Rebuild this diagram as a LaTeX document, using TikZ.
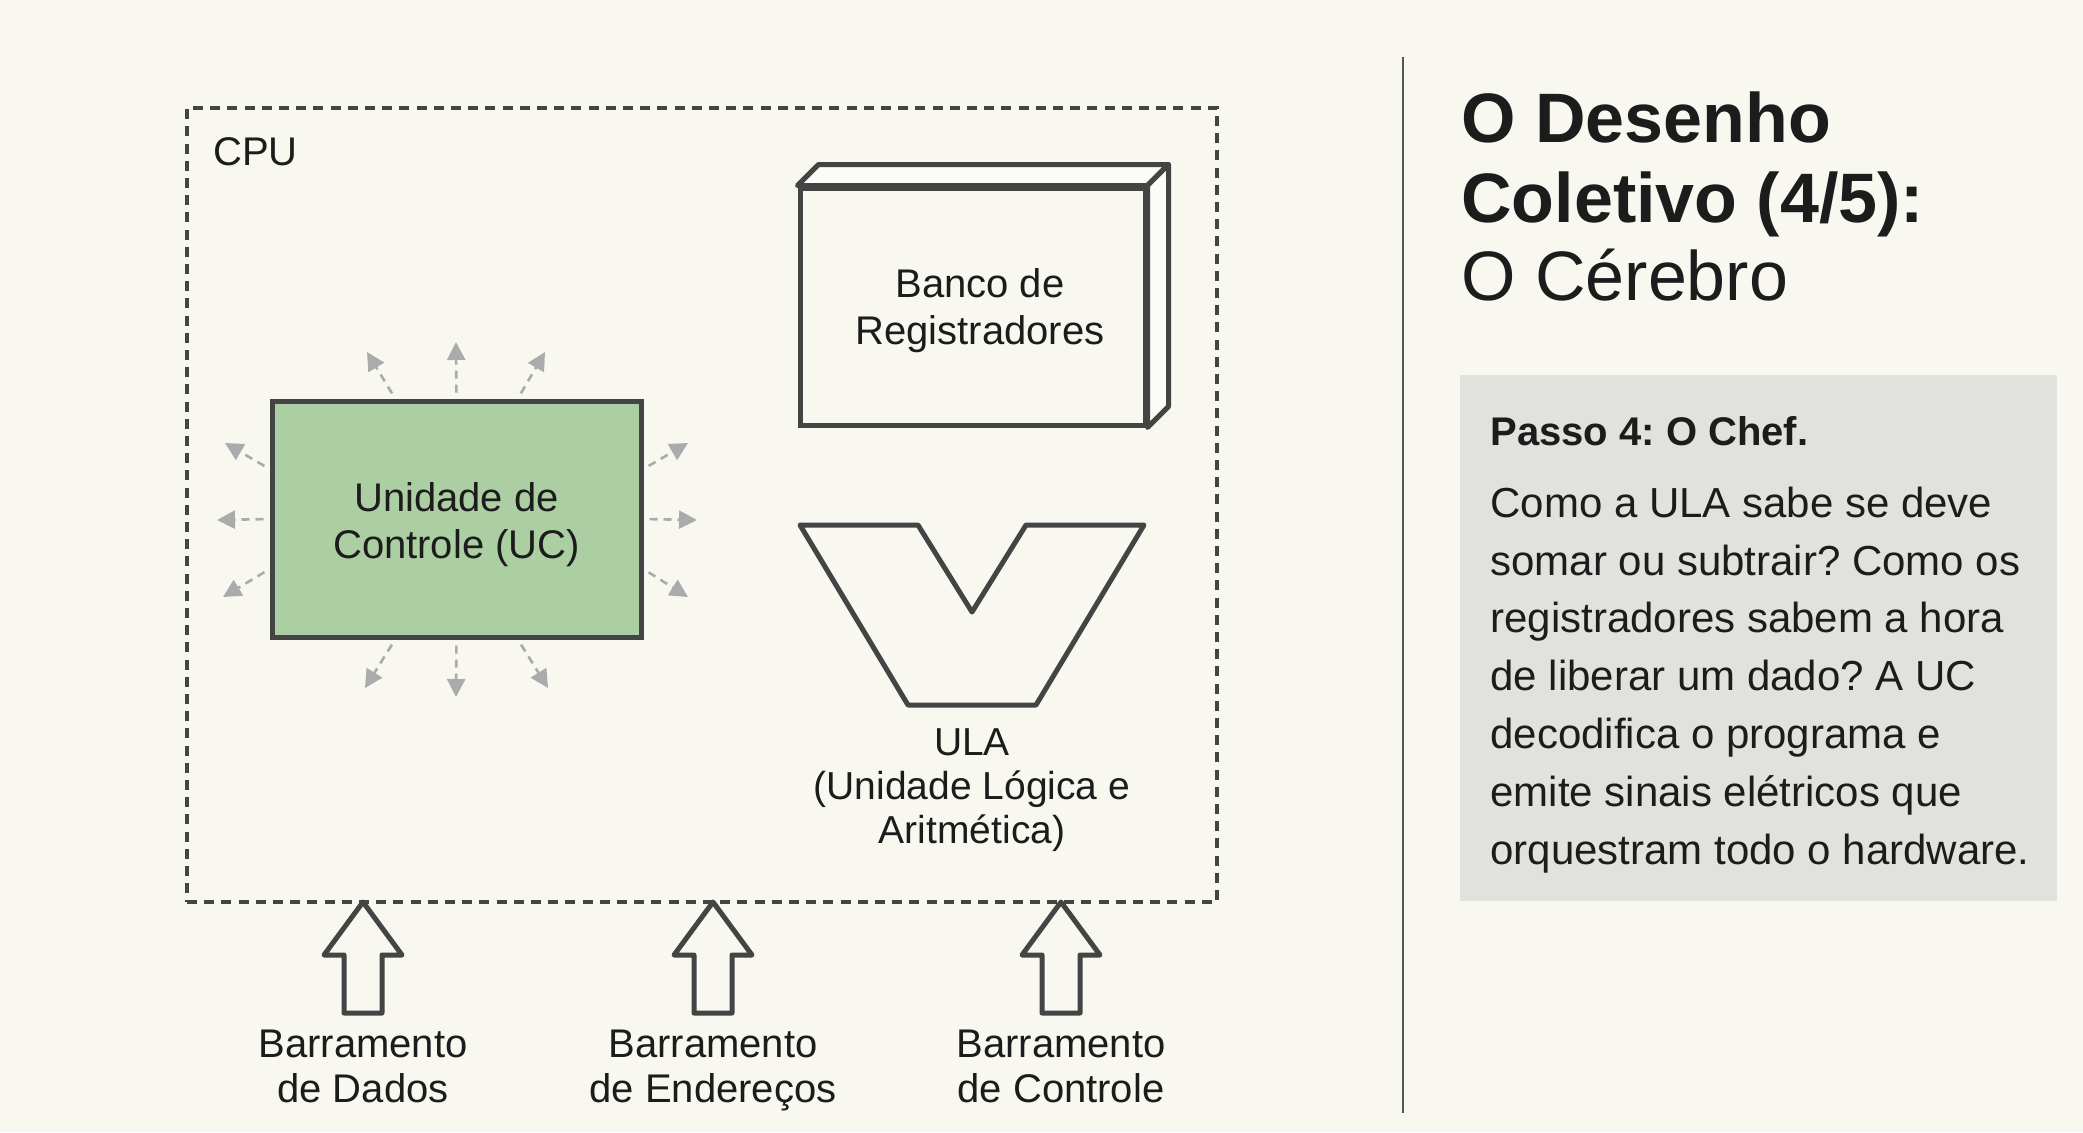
\documentclass[tikz,border=0pt]{standalone}
\usepackage{fontspec}
\setmainfont{Liberation Sans}
\frenchspacing
\usetikzlibrary{arrows.meta}
\definecolor{bg}{HTML}{F8F7F0}
\definecolor{ink}{HTML}{1C1C1C}
\definecolor{edgec}{HTML}{444444}
\definecolor{ucgreen}{HTML}{ABCFA3}
\definecolor{sig}{HTML}{ABABAB}
\definecolor{panelc}{HTML}{E1E1DD}
\definecolor{divc}{HTML}{555555}
\begin{document}
\begin{tikzpicture}[x=0.5pt,y=-0.5pt,
  every node/.style={text=ink, font=\fontsize{20}{23.5}\selectfont},
  unitbox/.style={draw=edgec, line width=2.5pt, inner sep=0pt},
  cpubox/.style={draw=edgec, line width=1.75pt, dash pattern=on 5pt off 3.6pt, inner sep=0pt},
  signal/.style={draw=sig, line width=1.3pt, dash pattern=on 4pt off 3pt,
     -{Triangle[length=9pt,width=9pt,fill=sig]}, shorten <=3pt},
  face/.style={draw=edgec, line width=2.5pt, line join=round, fill=white!55!bg},
  busarrow/.style={draw=edgec, line width=2.5pt, line join=round, fill=bg},
  lbl/.style={align=center, inner sep=0pt}
]
\fill[bg] (0,0) rectangle (2083,1132);
\useasboundingbox (0,0) rectangle (2083,1132);

% CPU frame
\node[cpubox, minimum width=515pt, minimum height=397pt] (cpu) at (702,505) {};
\node[anchor=base west, inner sep=0pt] (cpulbl) at (213,165) {CPU};

% Control unit
\node[unitbox, fill=ucgreen, minimum width=184.5pt, minimum height=118pt] (uc) at (456.5,519) {};
\node[lbl] (uctext) at (456.5,525) {Unidade de\\Controle (UC)};

% signal arrows
\coordinate (s90) at (456,342);
\coordinate (s117) at (367,352);
\coordinate (s63) at (545,352);
\coordinate (s180) at (217,520);
\coordinate (s165) at (225,443);
\coordinate (s195) at (223,597);
\coordinate (s0) at (697,520);
\coordinate (s15) at (688,443);
\coordinate (s345) at (688,597);
\coordinate (s270) at (456,697);
\coordinate (s243) at (365,688);
\coordinate (s297) at (548,688);
\foreach \a in {90,117,63,180,165,195,0,15,345,270,243,297}
  \draw[signal] (uc.\a) -- (s\a);

% Register bank
\node[unitbox, fill=bg, minimum width=172.5pt, minimum height=118.5pt] (reg) at (972.5,306.5) {};
\draw[face] (reg.north west) -- ++(21,-21) -- ([shift={(21,-21)}]reg.north east) -- (reg.north east) -- cycle;
\draw[face] (reg.north east) -- ++(21,-21) -- ([shift={(21,-21)}]reg.south east) -- (reg.south east) -- cycle;
\node[lbl] (regtext) at (980,311) {Banco de\\Registradores};

% ALU
\draw[draw=edgec, line width=2.5pt, line join=round]
  (800,525) -- (918,525) -- (972,612) -- (1026,525) -- (1144,525) -- (1036,705) -- (908,705) -- cycle;
\coordinate (ula) at (972,705);
\node[lbl, anchor=base, font=\fontsize{19.5}{21.8}\selectfont] (ulalbl) at (972,843)
  {ULA\\(Unidade Lógica e\\Aritmética)};

% Buses
\foreach \cx/\nm/\txt in {363/dados/{Barramento\\de Dados},713/enderecos/{Barramento\\de Endereços},1061/controle/{Barramento\\de Controle}}{
  \draw[busarrow] (\cx,902) -- ++(39,53) -- ++(-20,0) -- ++(0,58) -- ++(-38,0) -- ++(0,-58) -- ++(-20,0) -- cycle;
  \node[lbl, anchor=base, font=\fontsize{20}{22.5}\selectfont] (bus\nm) at (\cx,1102) {\txt};
}

% Divider
\draw[divc, line width=1pt] (1403,57) -- (1403,1113);

% Title
\node[anchor=base west, inner sep=0pt, font=\fontsize{35}{40}\selectfont\bfseries] (t1) at (1461,142) {O Desenho};
\node[anchor=base west, inner sep=0pt, font=\fontsize{35}{40}\selectfont\bfseries] (t2) at (1461,222) {Coletivo (4/5):};
\node[anchor=base west, inner sep=0pt, font=\fontsize{35}{40}\selectfont] (t3) at (1461,300) {O Cérebro};

% Panel
\node[fill=panelc, anchor=north west, inner sep=0pt, minimum width=298.5pt, minimum height=263pt] (panel) at (1460,375) {};
\node[anchor=base west, inner sep=0pt, font=\fontsize{20}{24}\selectfont\bfseries] (phead) at (1490,445) {Passo 4: O Chef.};
\node[anchor=base west, inner sep=0pt, align=left, font=\fontsize{21}{28.9}\selectfont] (pbody) at (1490,864)
  {Como a ULA sabe se deve\\somar ou subtrair? Como os\\registradores sabem a hora\\de liberar um dado? A UC\\decodifica o programa e\\emite sinais elétricos que\\orquestram todo o hardware.};
\end{tikzpicture}
\end{document}
